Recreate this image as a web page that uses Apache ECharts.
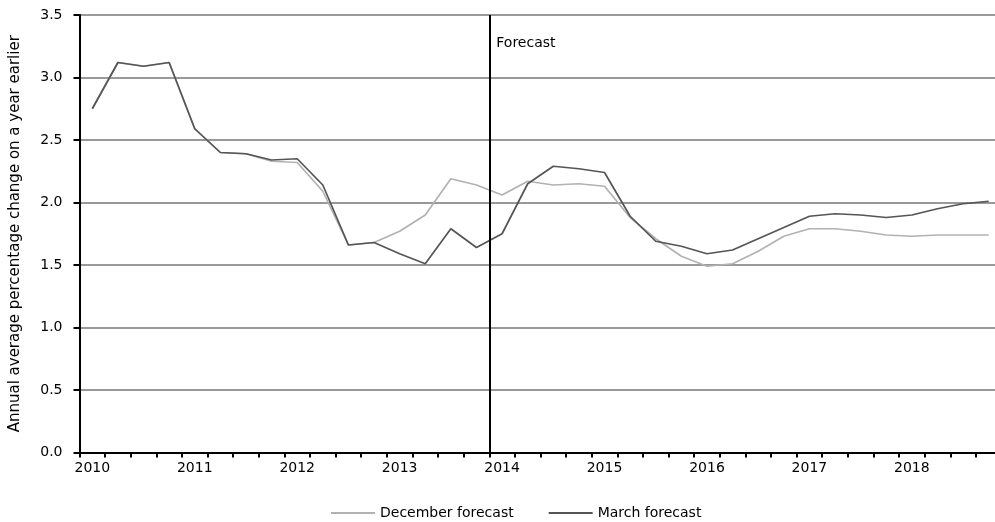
<!DOCTYPE html>
<html>
<head>
<meta charset="utf-8">
<script src="https://cdn.jsdelivr.net/npm/echarts@6/dist/echarts.min.js"></script>
<style>
  html, body { margin: 0; padding: 0; background: #fff; }
  #chart { width: 995px; height: 522px; }
</style>
</head>
<body>
<div id="chart"></div>
<script>
// Quarterly CPI outlook, 2010 Q1 to 2018 Q4
const years = [2010, 2011, 2012, 2013, 2014, 2015, 2016, 2017, 2018];
const quarters = ['Q1', 'Q2', 'Q3', 'Q4'];
const yTicks = [0, 0.5, 1.0, 1.5, 2.0, 2.5, 3.0, 3.5];

const decemberForecast = [
  2.75, 3.12, 3.09, 3.12, 2.59, 2.40, 2.39, 2.33, 2.32, 2.09, 1.66, 1.68,
  1.77, 1.90, 2.19, 2.14, 2.06, 2.17, 2.14, 2.15, 2.13, 1.88, 1.71, 1.57,
  1.49, 1.51, 1.61, 1.73, 1.79, 1.79, 1.77, 1.74, 1.73, 1.74, 1.74, 1.74
];
const marchForecast = [
  2.75, 3.12, 3.09, 3.12, 2.59, 2.40, 2.39, 2.34, 2.35, 2.14, 1.66, 1.68,
  1.59, 1.51, 1.79, 1.64, 1.75, 2.15, 2.29, 2.27, 2.24, 1.89, 1.69, 1.65,
  1.59, 1.62, 1.71, 1.80, 1.89, 1.91, 1.90, 1.88, 1.90, 1.95, 1.99, 2.01
];
// forecast period begins with the first quarter of 2014
const forecastStart = 16;
const forecastLabel = 'Forecast';
const forecastLabelLevel = 3.27;

const categories = [];
years.forEach(y => quarters.forEach(q => categories.push(y + ' ' + q)));

const FONT = 'DejaVu Sans';
const chart = echarts.init(document.getElementById('chart'), null, { renderer: 'canvas' });

chart.setOption({
  animation: false,
  backgroundColor: '#ffffff',
  textStyle: { fontFamily: FONT, color: '#000' },
  // the last quarter runs past the right edge of the canvas
  grid: { left: 79.5, top: 15, height: 437.5, width: 922, outerBoundsMode: 'none', containLabel: false },
  legend: {
    left: 326,
    top: 501,
    icon: 'rect',
    itemWidth: 44,
    itemHeight: 2,
    itemGap: 35,
    textStyle: { fontFamily: FONT, fontSize: 14, color: '#000' },
    data: ['December forecast', 'March forecast']
  },
  xAxis: [{
    type: 'category',
    data: categories,
    boundaryGap: true,
    axisLine: { lineStyle: { color: '#000', width: 2 } },
    axisTick: { show: true, interval: 0, length: 5, lineStyle: { color: '#000', width: 2 } },
    axisLabel: {
      interval: 3,
      margin: 9,
      fontFamily: FONT,
      fontSize: 14,
      color: '#000',
      formatter: v => v.slice(0, 4)
    },
    splitLine: { show: false }
  }, {
    // continuous companion axis used to place the forecast divider on a quarter boundary
    type: 'value',
    min: 0,
    max: categories.length,
    show: false
  }],
  yAxis: {
    type: 'value',
    min: yTicks[0],
    max: yTicks[yTicks.length - 1],
    interval: 0.5,
    name: 'Annual average percentage change on a year earlier',
    nameLocation: 'middle',
    nameRotate: 90,
    nameGap: 57,
    nameTextStyle: { fontFamily: FONT, fontSize: 15, color: '#000' },
    axisLine: { show: true, lineStyle: { color: '#000', width: 2 } },
    axisTick: { show: true, length: 6, lineStyle: { color: '#000', width: 2 } },
    axisLabel: {
      margin: 17,
      fontFamily: FONT,
      fontSize: 14,
      color: '#000',
      formatter: v => v.toFixed(1)
    },
    splitLine: { show: true, lineStyle: { color: '#999999', width: 2 } }
  },
  series: [{
    name: 'December forecast',
    type: 'line',
    data: decemberForecast,
    symbol: 'none',
    color: '#b2b2b2',
    lineStyle: { color: '#b2b2b2', width: 1.7 },
    z: 3
  }, {
    name: 'March forecast',
    type: 'line',
    data: marchForecast,
    symbol: 'none',
    color: '#555555',
    lineStyle: { color: '#555555', width: 1.7 },
    z: 4
  }, {
    name: 'divider',
    type: 'line',
    xAxisIndex: 1,
    data: [],
    markLine: {
      silent: true,
      symbol: 'none',
      label: { show: false },
      lineStyle: { color: '#000', width: 2, type: 'solid' },
      data: [{ xAxis: forecastStart }]
    },
    markPoint: {
      silent: true,
      symbol: 'circle',
      symbolSize: 0,
      label: {
        show: true,
        position: 'right',
        distance: 7,
        formatter: forecastLabel,
        fontFamily: FONT,
        fontSize: 14,
        color: '#000'
      },
      data: [{ coord: [forecastStart, forecastLabelLevel] }]
    },
    z: 5
  }]
});
</script>
</body>
</html>
